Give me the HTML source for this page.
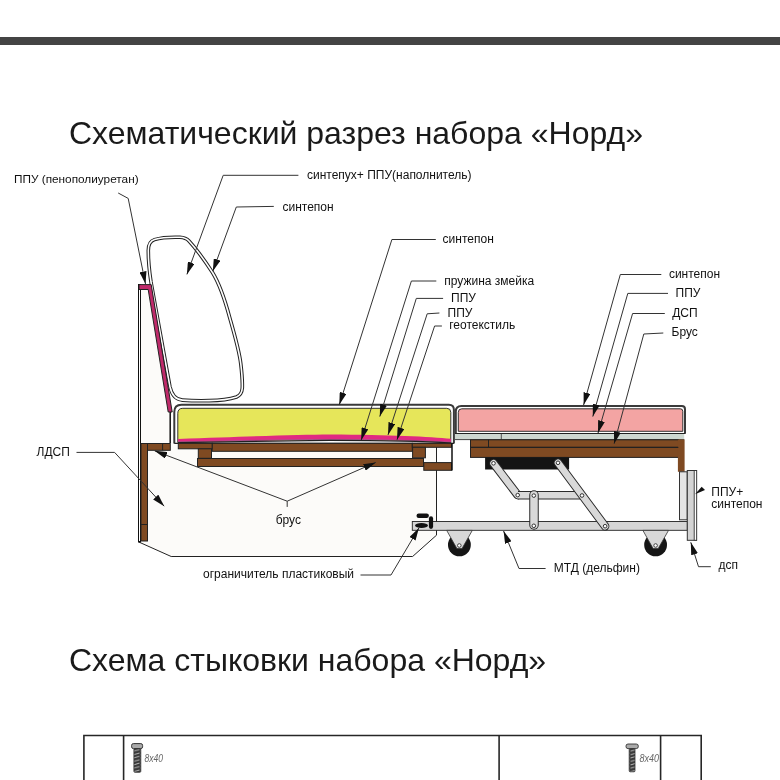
<!DOCTYPE html>
<html><head><meta charset="utf-8">
<style>
html,body{margin:0;padding:0;background:#fff;}
body{width:780px;height:780px;overflow:hidden;position:relative;font-family:"Liberation Sans",sans-serif;}
.bar{position:absolute;left:0;top:37px;width:780px;height:8px;background:#444;}
.t{position:absolute;white-space:nowrap;color:#1a1a1a;font-size:32px;line-height:1;will-change:transform;}
svg{position:absolute;left:0;top:0;will-change:transform;}
svg text{font-family:"Liberation Sans",sans-serif;font-size:12px;fill:#111;}
</style></head><body>
<div class="bar"></div>
<div class="t" style="left:69px;top:117px;">Схематический разрез набора «Норд»</div>
<div class="t" style="left:69px;top:644px;">Схема стыковки набора «Норд»</div>
<svg width="780" height="780" viewBox="0 0 780 780">
<defs>
<marker id="ah" viewBox="0 0 12.5 7" refX="12.5" refY="3.5" markerWidth="12.5" markerHeight="7" markerUnits="userSpaceOnUse" orient="auto">
<path d="M0,0 L12.5,3.5 L0,7 Z" fill="#111"/>
</marker>
<marker id="ahs" viewBox="0 0 8 6" refX="8" refY="3" markerWidth="8" markerHeight="6" markerUnits="userSpaceOnUse" orient="auto">
<path d="M0,0 L8,3 L0,6 Z" fill="#111"/>
</marker>
</defs>
<!-- side polygon (ЛДСП side) -->
<path d="M140,285 L151,285 L172,412 L172,443 L436.5,443 L436.5,535.2 L412.6,556.5 L171.2,556.5 L138.8,542 Z" fill="#fcfbf9"/>
<path d="M138.8,542 L171.2,556.5 L412.6,556.5 L436.5,535.2 L436.5,447" fill="none" stroke="#222" stroke-width="1"/>
<!-- back panel -->
<rect x="138.5" y="284.5" width="2" height="257.5" fill="#fff" stroke="#111" stroke-width="1"/>
<!-- brown leg -->
<rect x="141" y="443.5" width="6.5" height="97.5" fill="#7f4a22" stroke="#222" stroke-width="1"/>
<line x1="141" y1="524.5" x2="147.5" y2="524.5" stroke="#222" stroke-width="1"/>

<!-- backrest cushion (double line) -->
<path id="bk" d="M169.9,386.5 L151,282 C149.6,273 148.3,260 148.3,250.5 C148.3,244.5 150,241 154.5,239.6 C161,237.7 171,237 180,237.3 C184,237.5 186.8,238.6 189,241 C195.5,248 205,261 212.5,272.5 C219,283 225,300 229.8,318 C235,336 239.5,352 240.8,364 C242,374 242.5,382 242.3,388 C242,392.5 240,395.5 236.5,397 C228,399.8 218,400.5 209.2,400.6 C200,400.8 190,400.6 182.4,400.1 C176.6,399.7 171.9,396 169.9,386.5 Z" fill="#fff" stroke="#222" stroke-width="3.6" stroke-linejoin="round"/>
<path d="M169.9,386.5 L151,282 C149.6,273 148.3,260 148.3,250.5 C148.3,244.5 150,241 154.5,239.6 C161,237.7 171,237 180,237.3 C184,237.5 186.8,238.6 189,241 C195.5,248 205,261 212.5,272.5 C219,283 225,300 229.8,318 C235,336 239.5,352 240.8,364 C242,374 242.5,382 242.3,388 C242,392.5 240,395.5 236.5,397 C228,399.8 218,400.5 209.2,400.6 C200,400.8 190,400.6 182.4,400.1 C176.6,399.7 171.9,396 169.9,386.5 Z" fill="none" stroke="#fff" stroke-width="1.6" stroke-linejoin="round"/>

<!-- magenta strip -->
<path d="M139,284.6 L151.2,284.6 L172.2,412 L168.2,412 L148.2,289.5 L139,289.5 Z" fill="#bf2a6a" stroke="#222" stroke-width="1"/>
<line x1="170.2" y1="412" x2="170.2" y2="443" stroke="#111" stroke-width="1.5"/>

<!-- seat cushion -->
<path d="M174.3,443.4 L174.3,412 Q174.3,404.8 181.5,404.8 L448.9,404.8 Q453.9,404.8 453.9,409.8 L453.9,443.4" fill="#fff" stroke="#3a3a3a" stroke-width="2"/>
<path d="M177.8,442.5 L177.8,413.3 Q177.8,408.3 182.8,408.3 L446.8,408.3 Q450.8,408.3 450.8,412.3 L450.8,442.5 Z" fill="#e6e65a" stroke="#333" stroke-width="1"/>
<path d="M178,439 C250,436.5 300,434.5 330,434.5 C390,434.7 430,436.8 451,438.8 L451,442.8 C430,441.4 390,440.2 330,440.1 C300,440.1 250,441 178,442.4 Z" fill="#e02a82"/>
<path d="M178,441.8 C250,440.4 300,439.5 330,439.5 C390,439.6 430,440.8 451,442.2" fill="none" stroke="#9a5a8a" stroke-width="0.8"/>
<path d="M178,442.6 C250,441.2 300,440.3 330,440.3 C390,440.4 430,441.6 451,443 L451,444 L178,444 Z" fill="#fff"/>
<path d="M178,442.6 C250,441.2 300,440.3 330,440.3 C390,440.4 430,441.6 451,443" fill="none" stroke="#222" stroke-width="1.2"/>
<line x1="174.3" y1="443.4" x2="453.9" y2="443.4" stroke="#222" stroke-width="1.3"/>

<!-- seat frame -->
<g fill="#7f4a22" stroke="#222" stroke-width="1">
<rect x="147.5" y="443.5" width="22.8" height="6.8"/>
<line x1="162.6" y1="443.5" x2="162.6" y2="450.3"/>
<rect x="178.3" y="443.3" width="34" height="5.5"/>
<rect x="212.3" y="443.3" width="200" height="8"/>
<rect x="412.3" y="443.3" width="39.2" height="4"/>
<rect x="198.3" y="448.8" width="13.2" height="9.5"/>
<rect x="412.6" y="447.3" width="12.8" height="10.5"/>
<rect x="197.5" y="458.5" width="226" height="8"/>
<rect x="423.8" y="462.6" width="27.7" height="7.7"/>
</g>
<line x1="452" y1="443" x2="452" y2="470.5" stroke="#111" stroke-width="1.5"/>

<!-- ottoman cushion -->
<path d="M455.8,433.5 L455.8,411.5 Q455.8,406 461.3,406 L681.8,406 Q685,406 685,409.2 L685,433.5" fill="#fff" stroke="#3a3a3a" stroke-width="2"/>
<path d="M458.3,431.3 L458.3,412.3 Q458.3,408.8 461.8,408.8 L680.3,408.8 Q682.8,408.8 682.8,411.3 L682.8,431.3 Z" fill="#f3a4a3" stroke="#333" stroke-width="1"/>
<rect x="455" y="433.8" width="229.2" height="5.8" fill="#cdd7d0"/>
<line x1="455" y1="433.5" x2="685.5" y2="433.5" stroke="#222" stroke-width="1"/>
<line x1="455" y1="439.6" x2="684.2" y2="439.6" stroke="#333" stroke-width="0.9"/>
<line x1="501.3" y1="433.8" x2="501.3" y2="439.4" stroke="#333" stroke-width="0.8"/>
<!-- ottoman frame -->
<g fill="#7f4a22" stroke="#222" stroke-width="1">
<rect x="470.5" y="439.8" width="208" height="7.6"/>
<line x1="488.5" y1="439.8" x2="488.5" y2="447.4"/>
<rect x="470.5" y="447.4" width="208" height="10"/>
</g>
<rect x="677.9" y="439.5" width="6.7" height="32.3" fill="#7f4a22"/>
<line x1="470.5" y1="447.4" x2="678.4" y2="447.4" stroke="#222" stroke-width="1"/>
<!-- black mount -->
<rect x="485.1" y="457.2" width="84" height="12.3" fill="#141414"/>

<!-- base bar -->
<rect x="412.3" y="521.5" width="275" height="8.8" fill="#d6d6d6" stroke="#222" stroke-width="0.9"/>
<!-- mechanism links -->
<g stroke-linecap="round" fill="none">
<line x1="493.5" y1="463.3" x2="517.7" y2="495.1" stroke="#2a2a2a" stroke-width="8.6"/>
<line x1="493.5" y1="463.3" x2="517.7" y2="495.1" stroke="#d9d9d9" stroke-width="6.6"/>
<line x1="518" y1="495.3" x2="580" y2="495.3" stroke="#2a2a2a" stroke-width="8.6" stroke-linecap="butt"/>
<line x1="518" y1="495.3" x2="580" y2="495.3" stroke="#d9d9d9" stroke-width="6.6" stroke-linecap="butt"/>
<line x1="534" y1="495" x2="534" y2="525" stroke="#2a2a2a" stroke-width="9.5"/>
<line x1="534" y1="495" x2="534" y2="525" stroke="#d9d9d9" stroke-width="7.5"/>
<line x1="558" y1="462.8" x2="605.1" y2="526.2" stroke="#2a2a2a" stroke-width="8.6"/>
<line x1="558" y1="462.8" x2="605.1" y2="526.2" stroke="#d9d9d9" stroke-width="6.6"/>
</g>
<g fill="#fff" stroke="#333" stroke-width="1">
<circle cx="493.5" cy="463.3" r="1.8"/><circle cx="517.7" cy="495.1" r="1.8"/>
<circle cx="533.8" cy="495.6" r="1.8"/><circle cx="533.8" cy="525.8" r="1.8"/>
<circle cx="558" cy="462.8" r="1.8"/><circle cx="582" cy="495.5" r="1.8"/>
<circle cx="605.1" cy="526.2" r="1.8"/>
</g>
<!-- wheels -->
<g>
<circle cx="459.4" cy="544.9" r="11.4" fill="#151515"/>
<path d="M446.7,530.4 L472.3,530.4 L462,548.6 L456.9,548.6 Z" fill="#d8d8d8" stroke="#333" stroke-width="0.8"/>
<circle cx="459.3" cy="545.5" r="1.8" fill="#fff" stroke="#333" stroke-width="0.9"/>
<circle cx="655.6" cy="544.9" r="11.4" fill="#151515"/>
<path d="M642.9,530.4 L668.5,530.4 L658.2,548.6 L653.1,548.6 Z" fill="#d8d8d8" stroke="#333" stroke-width="0.8"/>
<circle cx="655.6" cy="545.5" r="1.8" fill="#fff" stroke="#333" stroke-width="0.9"/>
</g>
<!-- right panels -->
<rect x="679.5" y="471.8" width="7.7" height="48" fill="#e4e4e4" stroke="#333" stroke-width="1"/>
<rect x="687.3" y="470.5" width="9.2" height="69.8" fill="#d4d4d4" stroke="#333" stroke-width="1"/>
<rect x="694.2" y="470.5" width="2.5" height="69.8" fill="#fff" stroke="#333" stroke-width="0.9"/>
<path d="M695,494.2 L701.7,486.8 L705,490.1 Z" fill="#111"/>

<!-- stopper -->
<g fill="#111">
<rect x="416.5" y="513.6" width="12.4" height="4.4" rx="2.2"/>
<rect x="428.9" y="516.3" width="4.2" height="12.6" rx="2.1"/>
<ellipse cx="421.5" cy="525.6" rx="6.4" ry="2.5"/>
</g>

<!-- leader lines -->
<g fill="none" stroke="#333" stroke-width="1">
<polyline points="118.2,193 128.2,198.4 145.5,284" marker-end="url(#ah)"/>
<polyline points="298.4,175.3 223.2,175.3 186.9,274.4" marker-end="url(#ah)"/>
<polyline points="273.8,206.4 236.3,207 212.8,271.2" marker-end="url(#ah)"/>
<polyline points="435.8,239.5 391.9,239.5 339.3,404.8" marker-end="url(#ah)"/>
<polyline points="436.3,281 411.4,281 361.2,440.2" marker-end="url(#ah)"/>
<polyline points="443.1,298.4 416.3,298.4 379.8,416.6" marker-end="url(#ah)"/>
<polyline points="439.4,313 427.2,313.8 388,434.9" marker-end="url(#ah)"/>
<polyline points="441.9,326 434.6,326 397,439.8" marker-end="url(#ah)"/>
<polyline points="661.3,274.5 620.3,274.5 583.6,405" marker-end="url(#ah)"/>
<polyline points="668,293.4 627.8,293.4 592.8,416.6" marker-end="url(#ah)"/>
<polyline points="664.8,313.5 632.6,313.5 598,433" marker-end="url(#ah)"/>
<polyline points="663.3,333 643.8,334 614.1,443.8" marker-end="url(#ah)"/>
<polyline points="76.5,452.4 114.6,452.4 164.2,506.2" marker-end="url(#ah)"/>
<polyline points="287.2,506.9 287.2,501.2 154.6,450.8" marker-end="url(#ah)"/>
<polyline points="287.2,501.2 375.8,462.4" marker-end="url(#ah)"/>
<polyline points="360.5,575 391,575 418.9,528" marker-end="url(#ah)"/>
<polyline points="545.6,568.5 519,568.5 503.6,531" marker-end="url(#ah)"/>
<polyline points="710.8,566.7 698.5,566.7 690.8,542.3" marker-end="url(#ah)"/>

</g>

<!-- labels -->
<text x="14" y="183" style="font-size:11.8px">ППУ (пенополиуретан)</text>
<text x="307" y="179">синтепух+ ППУ(наполнитель)</text>
<text x="282.5" y="210.5">синтепон</text>
<text x="442.6" y="242.7">синтепон</text>
<text x="444.3" y="284.5">пружина змейка</text>
<text x="451.1" y="301.6">ППУ</text>
<text x="447.5" y="316.7">ППУ</text>
<text x="449.2" y="329">геотекстиль</text>
<text x="668.9" y="277.6">синтепон</text>
<text x="675.6" y="297">ППУ</text>
<text x="672.2" y="317">ДСП</text>
<text x="671.5" y="336">Брус</text>
<text x="36.6" y="455.8">ЛДСП</text>
<text x="275.7" y="523.5">брус</text>
<text x="203" y="578.4">ограничитель пластиковый</text>
<text x="553.8" y="572">МТД (дельфин)</text>
<text x="711.3" y="496">ППУ+</text>
<text x="711.3" y="507.6">синтепон</text>
<text x="718.5" y="569.2">дсп</text>

<!-- bottom table -->
<g fill="none" stroke="#262626" stroke-width="1.6">
<path d="M83.9,781 L83.9,735.5 L701.2,735.5 L701.2,781"/>
<line x1="123.6" y1="735.5" x2="123.6" y2="781"/>
<line x1="499.1" y1="735.5" x2="499.1" y2="781"/>
<line x1="660.6" y1="735.5" x2="660.6" y2="781"/>
</g>
<defs><pattern id="thr" patternUnits="userSpaceOnUse" width="7" height="3.4" x="0" y="748.7"><rect width="7" height="3.4" fill="#3a3a3a"/><path d="M0.5,2.6 L6.5,0.8" stroke="#bbb" stroke-width="0.9"/></pattern></defs>
<g>
<rect x="131.6" y="743.6" width="11" height="5" rx="1.8" fill="#aaa" stroke="#333" stroke-width="1"/>
<rect x="133.9" y="748.6" width="6.9" height="23.7" rx="1" fill="url(#thr)" stroke="#333" stroke-width="0.8"/>
<text x="144.6" y="761.7" textLength="18.5" lengthAdjust="spacingAndGlyphs" style="font-size:11.5px;font-style:italic;fill:#666">8x40</text>
<rect x="626" y="744" width="12.3" height="4.6" rx="2" fill="#aaa" stroke="#333" stroke-width="0.9"/>
<rect x="629.2" y="748.6" width="5.8" height="23.2" rx="1" fill="url(#thr)" stroke="#333" stroke-width="0.8"/>
<text x="639.4" y="761.5" textLength="19.5" lengthAdjust="spacingAndGlyphs" style="font-size:11.5px;font-style:italic;fill:#666">8x40</text>
</g>
</svg>
</body></html>
